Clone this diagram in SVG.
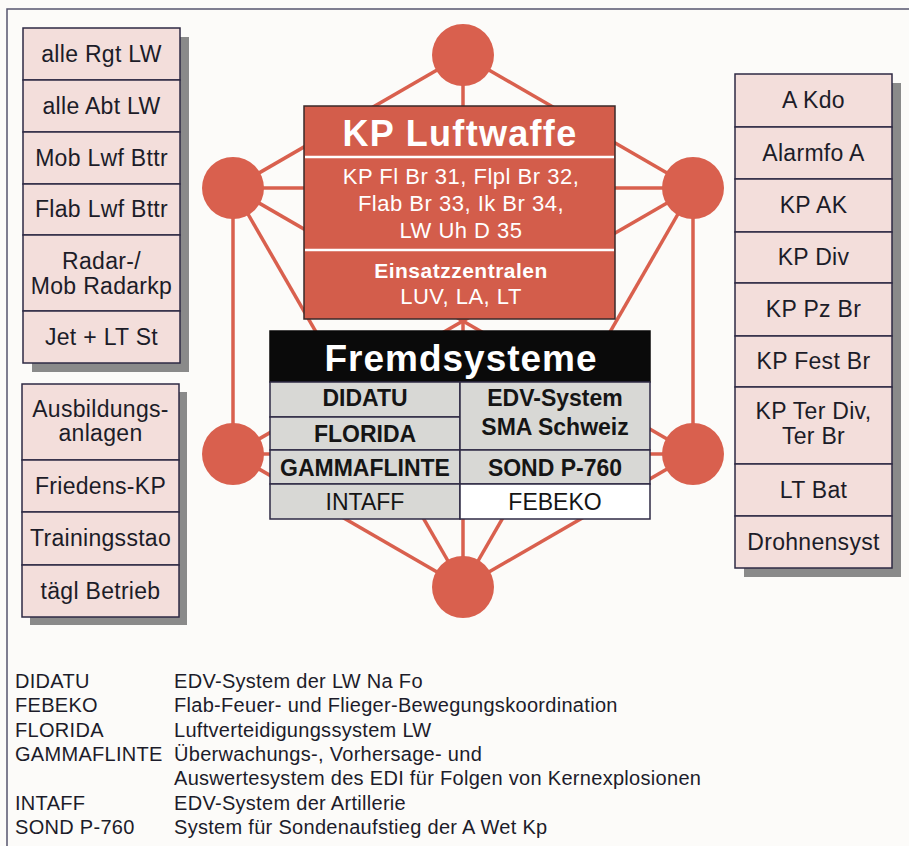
<svg xmlns="http://www.w3.org/2000/svg" width="909" height="846" viewBox="0 0 909 846">
<style>
.bg{fill:#fcfbf9}
.frame{fill:none;stroke:#55556e;stroke-width:1.5}
.sh{fill:#8a8a8a}
.cell{fill:#f3dedb;stroke:#2e2a44;stroke-width:1.5}
.lbl{font-family:"Liberation Sans",Arial,sans-serif;font-size:23px;fill:#1c1c28;text-anchor:middle;letter-spacing:0.3px}
.edge{stroke:#d9604e;stroke-width:3.5;fill:none}
.hub{fill:#d9604e}
.kp{fill:#d35d4b;stroke:#3a2a2a;stroke-width:1.5}
.div{stroke:#ffffff;stroke-width:2.5}
.kpt{font-family:"Liberation Sans",Arial,sans-serif;fill:#ffffff;text-anchor:middle}
.fs{fill:#d8d8d5;stroke:#2e2a44;stroke-width:1.5}
.fsw{fill:#ffffff;stroke:#2e2a44;stroke-width:1.5}
.fst{font-family:"Liberation Sans",Arial,sans-serif;font-size:23px;fill:#151515;text-anchor:middle}
.leg{font-family:"Liberation Sans",Arial,sans-serif;font-size:20px;fill:#1c1c2a;letter-spacing:0.3px}
</style>
<rect class="bg" x="0" y="0" width="909" height="846"/>
<rect class="frame" x="7" y="9" width="930" height="870"/>

<g id="connectors">
<line class="edge" x1="463" y1="55" x2="233" y2="188"/>
<line class="edge" x1="463" y1="55" x2="693" y2="188"/>
<line class="edge" x1="463" y1="55" x2="463" y2="587"/>
<line class="edge" x1="233" y1="188" x2="693" y2="188"/>
<line class="edge" x1="233" y1="188" x2="233" y2="454"/>
<line class="edge" x1="233" y1="188" x2="693" y2="454"/>
<line class="edge" x1="233" y1="188" x2="463" y2="587"/>
<line class="edge" x1="693" y1="188" x2="693" y2="454"/>
<line class="edge" x1="693" y1="188" x2="233" y2="454"/>
<line class="edge" x1="693" y1="188" x2="463" y2="587"/>
<line class="edge" x1="233" y1="454" x2="693" y2="454"/>
<line class="edge" x1="233" y1="454" x2="463" y2="587"/>
<line class="edge" x1="693" y1="454" x2="463" y2="587"/>
</g>

<g id="hub-top"><circle class="hub" cx="463" cy="55" r="31"/></g>
<g id="hub-upper-left"><circle class="hub" cx="233" cy="188" r="31"/></g>
<g id="hub-upper-right"><circle class="hub" cx="693" cy="188" r="31"/></g>
<g id="hub-lower-left"><circle class="hub" cx="233" cy="454" r="31"/></g>
<g id="hub-lower-right"><circle class="hub" cx="693" cy="454" r="31"/></g>
<g id="hub-bottom"><circle class="hub" cx="463" cy="587" r="31"/></g>

<g id="kp-luftwaffe">
<rect class="kp" x="304" y="106" width="311" height="213"/>
<line class="div" x1="305" y1="157" x2="614" y2="157"/>
<line class="div" x1="305" y1="250" x2="614" y2="250"/>
<text class="kpt" x="460" y="146" font-size="36" font-weight="bold" letter-spacing="1.3">KP Luftwaffe</text>
<text class="kpt" x="461" y="184" font-size="22" letter-spacing="0.5">KP Fl Br 31, Flpl Br 32,</text>
<text class="kpt" x="461" y="211" font-size="22" letter-spacing="0.5">Flab Br 33, Ik Br 34,</text>
<text class="kpt" x="461" y="238" font-size="22" letter-spacing="0.5">LW Uh D 35</text>
<text class="kpt" x="461" y="278" font-size="21" font-weight="bold" letter-spacing="0.5">Einsatzzentralen</text>
<text class="kpt" x="461" y="304" font-size="22" letter-spacing="0.5">LUV, LA, LT</text>
</g>

<g id="fremdsysteme">
<rect x="270" y="331" width="380" height="51" fill="#0a0a0a" stroke="#0a0a0a" stroke-width="1.5"/>
<text x="461" y="371" font-family="Liberation Sans, Arial, sans-serif" font-size="37" font-weight="bold" fill="#ffffff" text-anchor="middle" letter-spacing="1">Fremdsysteme</text>
<g id="fs-didatu"><rect class="fs" x="270" y="382" width="190" height="35"/><text class="fst" x="365" y="406" font-weight="bold">DIDATU</text></g>
<g id="fs-florida"><rect class="fs" x="270" y="417" width="190" height="33"/><text class="fst" x="365" y="442" font-weight="bold">FLORIDA</text></g>
<g id="fs-edv-sma"><rect class="fs" x="460" y="382" width="190" height="68"/><text class="fst" x="555" y="406" font-weight="bold">EDV-System</text><text class="fst" x="555" y="435" font-weight="bold">SMA Schweiz</text></g>
<g id="fs-gammaflinte"><rect class="fs" x="270" y="450" width="190" height="34"/><text class="fst" x="365" y="476" font-weight="bold">GAMMAFLINTE</text></g>
<g id="fs-sond"><rect class="fs" x="460" y="450" width="190" height="34"/><text class="fst" x="555" y="476" font-weight="bold">SOND P-760</text></g>
<g id="fs-intaff"><rect class="fs" x="270" y="484" width="190" height="35"/><text class="fst" x="365" y="510">INTAFF</text></g>
<g id="fs-febeko"><rect class="fsw" x="460" y="484" width="190" height="35"/><text class="fst" x="555" y="510">FEBEKO</text></g>
</g>

<g id="col-lw">
<rect class="sh" x="32" y="37" width="157" height="335"/>
<g id="n-alle-rgt"><rect class="cell" x="23" y="28" width="157" height="52"/><text class="lbl" x="101.5" y="62">alle Rgt LW</text></g>
<g id="n-alle-abt"><rect class="cell" x="23" y="80" width="157" height="52"/><text class="lbl" x="101.5" y="114">alle Abt LW</text></g>
<g id="n-mob-lwf"><rect class="cell" x="23" y="132" width="157" height="52"/><text class="lbl" x="101.5" y="166">Mob Lwf Bttr</text></g>
<g id="n-flab-lwf"><rect class="cell" x="23" y="184" width="157" height="51"/><text class="lbl" x="101.5" y="217">Flab Lwf Bttr</text></g>
<g id="n-radar"><rect class="cell" x="23" y="235" width="157" height="76"/><text class="lbl" x="101.5" y="269">Radar-/</text><text class="lbl" x="101.5" y="294">Mob Radarkp</text></g>
<g id="n-jet"><rect class="cell" x="23" y="311" width="157" height="52"/><text class="lbl" x="101.5" y="345">Jet + LT St</text></g>
</g>

<g id="col-training">
<rect class="sh" x="30" y="392" width="157" height="233"/>
<g id="n-ausbildung"><rect class="cell" x="22" y="384" width="157" height="76"/><text class="lbl" x="100.5" y="417">Ausbildungs-</text><text class="lbl" x="100.5" y="441">anlagen</text></g>
<g id="n-friedens"><rect class="cell" x="22" y="460" width="157" height="52"/><text class="lbl" x="100.5" y="494">Friedens-KP</text></g>
<g id="n-training"><rect class="cell" x="22" y="512" width="157" height="53"/><text class="lbl" x="100.5" y="546">Trainingsstao</text></g>
<g id="n-taegl"><rect class="cell" x="22" y="565" width="157" height="52"/><text class="lbl" x="100.5" y="599">tägl Betrieb</text></g>
</g>

<g id="col-right">
<rect class="sh" x="744" y="83" width="157" height="494"/>
<g id="n-akdo"><rect class="cell" x="735" y="74" width="157" height="53"/><text class="lbl" x="813.5" y="108">A Kdo</text></g>
<g id="n-alarmfo"><rect class="cell" x="735" y="127" width="157" height="52"/><text class="lbl" x="813.5" y="161">Alarmfo A</text></g>
<g id="n-kpak"><rect class="cell" x="735" y="179" width="157" height="53"/><text class="lbl" x="813.5" y="213">KP AK</text></g>
<g id="n-kpdiv"><rect class="cell" x="735" y="232" width="157" height="51"/><text class="lbl" x="813.5" y="265">KP Div</text></g>
<g id="n-kppz"><rect class="cell" x="735" y="283" width="157" height="53"/><text class="lbl" x="813.5" y="317">KP Pz Br</text></g>
<g id="n-kpfest"><rect class="cell" x="735" y="336" width="157" height="51"/><text class="lbl" x="813.5" y="369">KP Fest Br</text></g>
<g id="n-kpter"><rect class="cell" x="735" y="387" width="157" height="77"/><text class="lbl" x="813.5" y="419">KP Ter Div,</text><text class="lbl" x="813.5" y="444">Ter Br</text></g>
<g id="n-ltbat"><rect class="cell" x="735" y="464" width="157" height="52"/><text class="lbl" x="813.5" y="498">LT Bat</text></g>
<g id="n-drohnen"><rect class="cell" x="735" y="516" width="157" height="52"/><text class="lbl" x="813.5" y="550">Drohnensyst</text></g>
</g>

<g id="legend">
<text class="leg" x="15" y="688">DIDATU</text><text class="leg" x="174" y="688">EDV-System der LW Na Fo</text>
<text class="leg" x="15" y="712">FEBEKO</text><text class="leg" x="174" y="712">Flab-Feuer- und Flieger-Bewegungskoordination</text>
<text class="leg" x="15" y="737">FLORIDA</text><text class="leg" x="174" y="737">Luftverteidigungssystem LW</text>
<text class="leg" x="15" y="761">GAMMAFLINTE</text><text class="leg" x="174" y="761">Überwachungs-, Vorhersage- und</text>
<text class="leg" x="174" y="785">Auswertesystem des EDI für Folgen von Kernexplosionen</text>
<text class="leg" x="15" y="810">INTAFF</text><text class="leg" x="174" y="810">EDV-System der Artillerie</text>
<text class="leg" x="15" y="834">SOND P-760</text><text class="leg" x="174" y="834">System für Sondenaufstieg der A Wet Kp</text>
</g>
</svg>
